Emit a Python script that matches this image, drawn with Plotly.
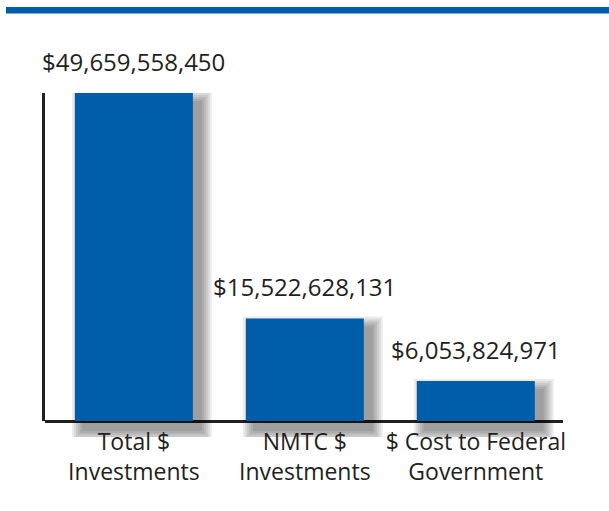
import plotly.graph_objects as go

categories = ["Total $<br>Investments", "NMTC $<br>Investments", "$ Cost to Federal<br>Government"]
values = [49659558450, 15522628131, 6053824971]
value_labels = ["$49,659,558,450", "$15,522,628,131", "$6,053,824,971"]

BLUE = "#005da9"
INK = "#231f20"
FONT = "Open Sans"

W, H = 609, 511
left, right = 45, 563          # plot area in px
top, axis_px, bottom = 93, 421, 437
ymax = max(values)
ppu = (axis_px - top) / ymax   # px per dollar
below = (bottom - axis_px) / ppu

x_range = [-0.52, 2.51]
xppu = (right - left) / (x_range[1] - x_range[0])
bar_w = 0.69


def px_y(p):
    return (bottom - p) / (bottom - top)


def px_x(p):
    return (p - left) / (right - left)


fig = go.Figure()

# soft drop shadow built from a few translucent layers
dx, dy = 8, 9
for s in [11, 9, 7, 5, 3, 1]:
    fig.add_trace(go.Bar(
        x=categories,
        y=[v + (s - dy) / ppu + (dy + s) / ppu for v in values],
        base=-(dy + s) / ppu,
        width=bar_w + 2 * s / xppu,
        offset=-(bar_w / 2) - s / xppu + dx / xppu,
        marker=dict(color="rgba(0,0,0,0.075)", line=dict(width=0)),
        hoverinfo="skip",
        showlegend=False,
    ))

fig.add_trace(go.Bar(
    x=categories,
    y=values,
    width=bar_w,
    yaxis="y2",
    marker=dict(color=BLUE, line=dict(width=0)),
    showlegend=False,
))

for cat, v, lab in zip(categories, values, value_labels):
    fig.add_annotation(
        x=cat, y=v, yref="y2", text=lab, showarrow=False,
        yanchor="bottom", yshift=13,
        font=dict(family=FONT, size=24, color=INK),
    )

# top rule
fig.add_shape(type="rect", xref="paper", yref="paper",
              x0=px_x(6), x1=px_x(W + 5), y0=px_y(13.5), y1=px_y(7),
              fillcolor=BLUE, line=dict(width=0))

fig.update_layout(
    width=W, height=H,
    margin=dict(l=left, r=W - right, t=top, b=H - bottom),
    paper_bgcolor="white", plot_bgcolor="rgba(0,0,0,0)",
    barmode="overlay",
    xaxis=dict(
        range=x_range, anchor="free", position=px_y(426),
        showline=False, showgrid=False,
        ticks="", tickfont=dict(family=FONT, size=23, color=INK),
        zeroline=False,
    ),
    yaxis=dict(
        range=[-below, ymax], domain=[0, 1], showgrid=False,
        showticklabels=False, showline=False,
        zeroline=True, zerolinecolor=INK, zerolinewidth=2.5,
    ),
    yaxis2=dict(
        range=[0, ymax], domain=[px_y(axis_px), 1],
        anchor="x", showgrid=False, showticklabels=False, zeroline=False,
        showline=True, linecolor=INK, linewidth=2.5, ticks="",
    ),
)

fig.write_html("out.html", config={"displayModeBar": False},
               post_script="document.body.style.margin='0';")
